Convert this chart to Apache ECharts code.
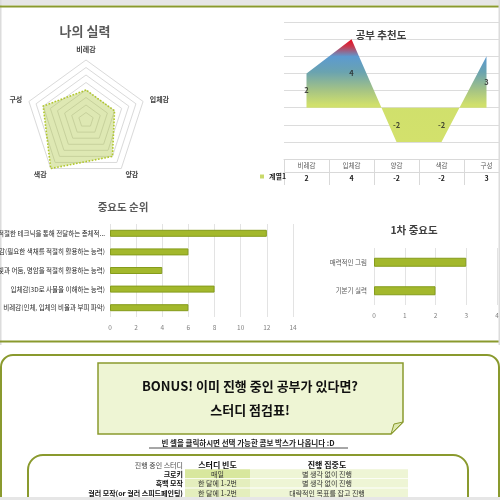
<!DOCTYPE html>
<html>
<head>
<meta charset="utf-8">
<script src="https://cdn.jsdelivr.net/npm/echarts@6/dist/echarts.min.js"></script>
<style>html,body{margin:0;padding:0;background:#fff;}#c{width:500px;height:500px;}</style>
</head>
<body>
<div id="c"></div>
<script>
// ---- data ----
const skillCategories = ['비례감', '입체감', '양감', '색감', '구성'];
const skillValues = [4, 4, 6, 8, 6];
const skillMax = 8;

const trendCategories = ['비례감', '입체감', '양감', '색감', '구성'];
const trendValues = [2, 4, -2, -2, 3];
const trendSeriesName = '계열1';

const rankCategories = [
  '비례감(인체, 입체의 비율과 부피 파악)',
  '입체감(3D로 사물을 이해하는 능력)',
  '양감(빛과 어둠, 명암을 적절히 활용하는 능력)',
  '색감(필요한 색채를 적절히 활용하는 능력)',
  '구성(표현하고자 하는 바를 적절한 테크닉을 통해 전달하는 총체적...'
];
const rankValues = [6, 8, 4, 6, 12];

const primaryCategories = ['기본기 실력', '매력적인 그림'];
const primaryValues = [2, 3];

const studyHeaders = ['진행 중인 스터디', '스터디 빈도', '진행 집중도'];
const studyNames = ['크로키', '흑백 모작', '컬러 모작(or 컬러 스피드페인팅)'];
const studyFrequency = ['매일', '한 달에 1-2번', '한 달에 1-2번'];
const studyFocus = ['별 생각 없이 진행', '별 생각 없이 진행', '대략적인 목표를 잡고 진행'];

// ---- chart ----
const FONT = '"Noto Sans CJK KR", "Noto Sans", sans-serif';
const OLIVE = '#8a9a2e';
const chart = echarts.init(document.getElementById('c'), null, {renderer: 'canvas'});

// radar indicators are placed counter-clockwise in ECharts; reorder so they run clockwise
const radarOrder = [0, 4, 3, 2, 1];
const indicators = radarOrder.map(i => ({name: skillCategories[i], max: skillMax}));
const radarData = radarOrder.map(i => skillValues[i]);

const graphics = [];
// page frame
graphics.push({type: 'rect', z: -5, shape: {x: 0, y: 0, width: 500, height: 5}, style: {fill: '#e6e6e6'}});
graphics.push({type: 'rect', z: -5, shape: {x: 0, y: 0, width: 1.5, height: 345}, style: {fill: '#dcdcdc'}});
graphics.push({type: 'rect', z: 10, shape: {x: 498.5, y: 0, width: 1.5, height: 345}, style: {fill: '#dcdcdc'}});
graphics.push({type: 'line', z: -4, shape: {x1: 0, y1: 6.5, x2: 500, y2: 6.5}, style: {stroke: OLIVE, lineWidth: 2}});
graphics.push({type: 'line', z: -4, shape: {x1: 0, y1: 341.5, x2: 500, y2: 341.5}, style: {stroke: OLIVE, lineWidth: 2}});
graphics.push({type: 'rect', z: -4, shape: {x: 1, y: 355, width: 498, height: 200, r: 12}, style: {fill: '#fff', stroke: OLIVE, lineWidth: 2}});
graphics.push({type: 'rect', z: 10, shape: {x: 0, y: 497, width: 500, height: 3}, style: {fill: '#e6e6e6'}});

// titles
const titleDefs = [
  ['나의 실력', 85, 31, 13, '#595959'],
  ['공부 추천도', 381, 35, 10.5, '#404040'],
  ['중요도 순위', 123, 207, 10.5, '#595959'],
  ['1차 중요도', 414, 230, 10.5, '#404040']
];
titleDefs.forEach(t => graphics.push({type: 'text', z: 5, style: {text: t[0], x: t[1], y: t[2], textAlign: 'center', textVerticalAlign: 'middle', font: 'bold ' + t[3] + 'px ' + FONT, fill: t[4]}}));

// bonus box with curled corner
graphics.push({type: 'polygon', z: -3, shape: {points: [[98, 363], [403, 363], [403, 422], [391, 434], [98, 434]]}, style: {fill: '#eef5d4', stroke: OLIVE, lineWidth: 1.5}});
graphics.push({type: 'polygon', z: -2, shape: {points: [[403, 422], [391, 434], [394, 424]]}, style: {fill: '#dce8ae', stroke: OLIVE, lineWidth: 1}});
graphics.push({type: 'text', style: {text: 'BONUS! 이미 진행 중인 공부가 있다면?', x: 250, y: 386, textAlign: 'center', textVerticalAlign: 'middle', font: 'bold 13px ' + FONT, fill: '#111'}});
graphics.push({type: 'text', style: {text: '스터디 점검표!', x: 250, y: 410, textAlign: 'center', textVerticalAlign: 'middle', font: 'bold 13px ' + FONT, fill: '#111'}});
graphics.push({type: 'text', style: {text: '빈 셀을 클릭하시면 선택 가능한 콤보 박스가 나옵니다 :D', x: 248, y: 443, textAlign: 'center', textVerticalAlign: 'middle', font: 'bold 7.5px ' + FONT, fill: '#222'}});
graphics.push({type: 'line', shape: {x1: 149, y1: 448, x2: 348, y2: 448}, style: {stroke: '#222', lineWidth: 0.8}});

// study table panel
graphics.push({type: 'rect', z: -3, shape: {x: 28, y: 455, width: 440, height: 80, r: 15}, style: {fill: '#fff', stroke: OLIVE, lineWidth: 2}});
const labelRight = 183, c1x = 185, c1w = 65, c2x = 250, c2w = 158, row0 = 474, rowH = 9.6;
graphics.push({type: 'text', style: {text: studyHeaders[0], x: labelRight, y: 465, textAlign: 'right', textVerticalAlign: 'middle', font: '7px ' + FONT, fill: '#444'}});
graphics.push({type: 'text', style: {text: studyHeaders[1], x: c1x + c1w / 2, y: 465, textAlign: 'center', textVerticalAlign: 'middle', font: 'bold 8px ' + FONT, fill: '#111'}});
graphics.push({type: 'text', style: {text: studyHeaders[2], x: c2x + c2w / 2 - 2, y: 465, textAlign: 'center', textVerticalAlign: 'middle', font: 'bold 8px ' + FONT, fill: '#111'}});
studyNames.forEach((name, i) => {
  const cy = row0 + rowH * i;
  graphics.push({type: 'rect', z: -1, shape: {x: c1x, y: cy - rowH / 2, width: c1w, height: rowH - 0.8}, style: {fill: i === 0 ? '#d8e79e' : '#e4eebd'}});
  graphics.push({type: 'rect', z: -1, shape: {x: c2x, y: cy - rowH / 2, width: c2w, height: rowH - 0.8}, style: {fill: '#eef5d5'}});
  graphics.push({type: 'text', style: {text: name, x: labelRight, y: cy, textAlign: 'right', textVerticalAlign: 'middle', font: 'bold 7px ' + FONT, fill: '#111'}});
  graphics.push({type: 'text', style: {text: studyFrequency[i], x: c1x + c1w / 2, y: cy, textAlign: 'center', textVerticalAlign: 'middle', font: '7px ' + FONT, fill: '#333'}});
  graphics.push({type: 'text', style: {text: studyFocus[i], x: c2x + c2w / 2 - 2, y: cy, textAlign: 'center', textVerticalAlign: 'middle', font: '7px ' + FONT, fill: '#333'}});
});

const barStyle = {color: '#a3b82c', borderColor: '#859c1c', borderWidth: 1};

const option = {
  backgroundColor: '#ffffff',
  animation: false,
  textStyle: {fontFamily: FONT},
  graphic: graphics,
  legend: {
    data: [trendSeriesName], left: 260, top: 173, icon: 'rect', itemWidth: 4, itemHeight: 4, itemGap: 2,
    padding: 0, textStyle: {fontSize: 7, fontWeight: 'bold', color: '#222', fontFamily: FONT}
  },
  radar: {
    center: [86, 120], radius: 60, startAngle: 90, splitNumber: skillMax, shape: 'polygon',
    indicator: indicators, nameGap: 7,
    axisName: {color: '#404040', fontSize: 7, fontWeight: 'bold', fontFamily: FONT},
    axisLine: {show: false}, axisTick: {show: false}, axisLabel: {show: false},
    splitArea: {show: false},
    splitLine: {lineStyle: {color: '#dadada', width: 1}}
  },
  grid: [
    {left: 284, width: 225, top: 22, height: 137, outerBoundsMode: 'none', containLabel: false},
    {left: 110, width: 183, top: 224, height: 93, outerBoundsMode: 'none', containLabel: false},
    {left: 374, width: 123, top: 248, height: 57, outerBoundsMode: 'none', containLabel: false}
  ],
  xAxis: [
    {type: 'category', gridIndex: 0, data: trendCategories, boundaryGap: true, position: 'bottom',
      axisLine: {show: true, onZero: false, lineStyle: {color: '#d9d9d9'}},
      axisTick: {show: true, length: 13, lineStyle: {color: '#d9d9d9'}},
      axisLabel: {fontSize: 6.5, color: '#595959', margin: 3, interval: 0}},
    {type: 'category', gridIndex: 0, data: trendValues.map(String), boundaryGap: true, position: 'bottom', offset: 13,
      axisLine: {show: true, onZero: false, lineStyle: {color: '#d9d9d9'}},
      axisTick: {show: true, length: 13, lineStyle: {color: '#d9d9d9'}},
      axisLabel: {fontSize: 7, fontWeight: 'bold', color: '#222', margin: 3, interval: 0}},
    {type: 'value', gridIndex: 1, min: 0, max: 14, interval: 2,
      axisLine: {show: false}, axisTick: {show: false},
      splitLine: {lineStyle: {color: '#e3e3e3'}},
      axisLabel: {fontSize: 6.5, color: '#7f7f7f', margin: 7}},
    {type: 'value', gridIndex: 2, min: 0, max: 4, interval: 1,
      axisLine: {show: false}, axisTick: {show: false},
      splitLine: {lineStyle: {color: '#e3e3e3'}},
      axisLabel: {fontSize: 6.5, color: '#7f7f7f', margin: 7}}
  ],
  yAxis: [
    {type: 'value', gridIndex: 0, min: -3, max: 5, interval: 1,
      axisLine: {show: false}, axisTick: {show: false}, axisLabel: {show: false},
      splitLine: {lineStyle: {color: '#dcdcdc'}}},
    {type: 'category', gridIndex: 1, data: rankCategories,
      axisLine: {show: false}, axisTick: {show: false},
      axisLabel: {fontSize: 6.5, color: '#262626', margin: 5, interval: 0}},
    {type: 'category', gridIndex: 2, data: primaryCategories,
      axisLine: {show: false}, axisTick: {show: false},
      axisLabel: {fontSize: 6.5, color: '#595959', margin: 7, interval: 0}}
  ],
  series: [
    {
      type: 'radar', name: '나의 실력', symbol: 'none',
      lineStyle: {color: '#b3c82a', width: 1.6, type: 'dotted'},
      areaStyle: {color: 'rgba(168,196,58,0.55)'},
      data: [{value: radarData}]
    },
    {
      type: 'line', name: trendSeriesName, xAxisIndex: 0, yAxisIndex: 0, data: trendValues, z: 2,
      symbol: 'none', lineStyle: {width: 0}, itemStyle: {color: '#c9d96a'},
      areaStyle: {
        opacity: 1,
        color: new echarts.graphic.LinearGradient(0, 0, 0, 1, [
          {offset: 0, color: '#ec0a1c'},
          {offset: 0.07, color: '#c8384e'},
          {offset: 0.17, color: '#5c9ad0'},
          {offset: 0.32, color: '#6aa3b0'},
          {offset: 0.5, color: '#a6c484'},
          {offset: 0.64, color: '#d0e06c'},
          {offset: 1, color: '#d3e16c'}
        ])
      }
    },
    {
      type: 'scatter', name: 'labels', xAxisIndex: 0, yAxisIndex: 0, symbolSize: 1, silent: true, z: 6, zlevel: 1,
      itemStyle: {color: 'rgba(0,0,0,0)'},
      data: trendValues.map(v => v / 2),
      label: {show: true, position: 'inside', formatter: p => String(trendValues[p.dataIndex]),
        fontSize: 7.5, fontWeight: 'bold', color: '#222', fontFamily: FONT}
    },
    {
      type: 'bar', name: '중요도 순위', xAxisIndex: 2, yAxisIndex: 1, data: rankValues,
      barWidth: 7, itemStyle: barStyle
    },
    {
      type: 'bar', name: '1차 중요도', xAxisIndex: 3, yAxisIndex: 2, data: primaryValues,
      barWidth: 9, itemStyle: barStyle
    }
  ]
};
chart.setOption(option);
</script>
</body>
</html>
